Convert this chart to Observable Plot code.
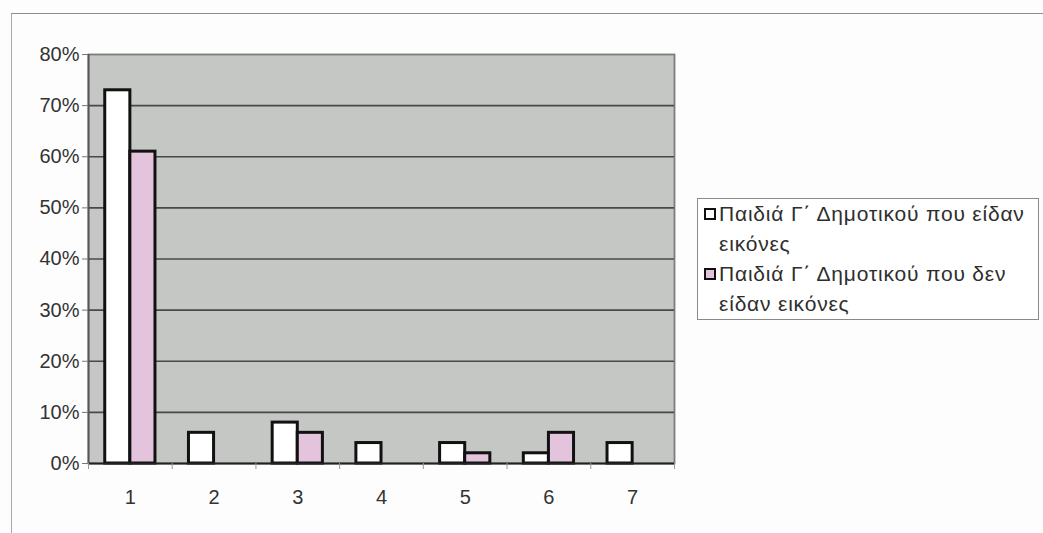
<!DOCTYPE html>
<html>
<head>
<meta charset="utf-8">
<script src="https://cdn.jsdelivr.net/npm/d3@7"></script>
<script src="https://cdn.jsdelivr.net/npm/@observablehq/plot@0.6"></script>
<style>
  html, body { margin: 0; padding: 0; background: #fdfdfd; }
  body { width: 1043px; height: 533px; position: relative; overflow: hidden; font-family: "Liberation Sans", Arial, sans-serif; }
  #outer { position: absolute; left: 11px; top: 13px; right: -2px; bottom: -2px; border-top: 1.5px solid #8c8c8c; border-left: 1.5px solid #a8a8a8; }
  #chart { position: absolute; left: 0; top: 0; }
  #legend { position: absolute; left: 697px; top: 198px; width: 342px; height: 122px; box-sizing: border-box;
            border: 1.5px solid #8a8a8a; background: #fff; font-size: 21px; letter-spacing: 0.8px; line-height: 30px; color: #2e2e2e; }
  .entry { position: relative; padding-left: 21px; }
  .sw { position: absolute; left: 6px; top: 9px; width: 12px; height: 12px; box-sizing: border-box; border: 2.5px solid #111; }
</style>
</head>
<body>
<div id="outer"></div>
<div id="chart"></div>
<div id="legend"></div>
<script>
// Data
const categories = [1, 2, 3, 4, 5, 6, 7];
const seriesNames = ["Παιδιά Γ΄ Δημοτικού που είδαν εικόνες", "Παιδιά Γ΄ Δημοτικού που δεν είδαν εικόνες"];
const seenValues = [0.73, 0.06, 0.08, 0.04, 0.04, 0.02, 0.04];
const notSeenValues = [0.61, 0, 0.06, 0, 0.02, 0.06, 0];
const yTicks = [0, 0.1, 0.2, 0.3, 0.4, 0.5, 0.6, 0.7, 0.8];
const seriesColors = ["#ffffff", "#e4c3dd"];

const barW = 0.3;
const seen = categories.map((c, i) => ({cat: c, value: seenValues[i]})).filter(d => d.value > 0);
const notSeen = categories.map((c, i) => ({cat: c, value: notSeenValues[i]})).filter(d => d.value > 0);
const boundaries = d3.range(0, categories.length + 1).map(k => 0.5 + k);

const chart = Plot.plot({
  width: 1043,
  height: 533,
  marginLeft: 88,
  marginRight: 369,
  marginTop: 54,
  marginBottom: 70,
  x: {domain: [0.5, categories.length + 0.5], label: null},
  y: {domain: [0, 0.8], label: null},
  style: {fontFamily: "'Liberation Sans', Arial, sans-serif", fontSize: "20px", color: "#333", background: "transparent", overflow: "visible"},
  marks: [
    Plot.frame({fill: "#c5c7c5", stroke: "#7c7c7c", strokeWidth: 1.8}),
    Plot.ruleY(yTicks.filter(t => t > 0 && t < 0.8), {stroke: "#484848", strokeWidth: 1.6}),
    Plot.rectY(seen, {x1: d => d.cat - barW, x2: d => d.cat, y1: 0, y2: "value", fill: seriesColors[0], stroke: "#111", strokeWidth: 3}),
    Plot.rectY(notSeen, {x1: d => d.cat, x2: d => d.cat + barW, y1: 0, y2: "value", fill: seriesColors[1], stroke: "#111", strokeWidth: 3}),
    Plot.ruleY([0], {stroke: "#222", strokeWidth: 2.2}),
    Plot.ruleX([0.5], {stroke: "#555", strokeWidth: 1.8}),
    Plot.axisY({ticks: yTicks, tickFormat: d3.format(".0%"), tickSize: 6, tickPadding: 3, stroke: "#777", fill: "#333", label: null}),
    Plot.axisX({ticks: categories, tickFormat: d => String(d), tickSize: 0, tickPadding: 26, fill: "#333", label: null}),
    Plot.axisX({ticks: boundaries, tickFormat: () => "", tickSize: 6, stroke: "#999", label: null})
  ]
});
document.getElementById("chart").appendChild(chart);

// Legend
const legend = document.getElementById("legend");
const legendLines = [["Παιδιά Γ΄ Δημοτικού που είδαν", "εικόνες"], ["Παιδιά Γ΄ Δημοτικού που δεν", "είδαν εικόνες"]];
legendLines.forEach((lines, i) => {
  const e = document.createElement("div");
  e.className = "entry";
  e.title = seriesNames[i];
  const sw = document.createElement("span");
  sw.className = "sw";
  sw.style.background = seriesColors[i];
  e.appendChild(sw);
  lines.forEach(t => { const l = document.createElement("div"); l.textContent = t; e.appendChild(l); });
  legend.appendChild(e);
});
</script>
</body>
</html>
